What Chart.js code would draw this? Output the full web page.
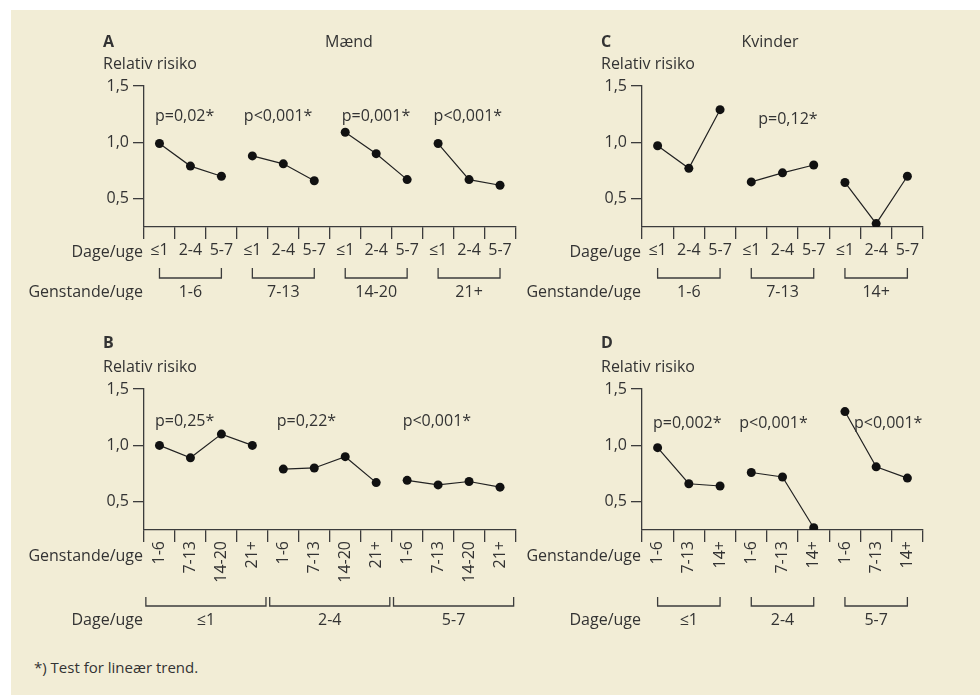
<!DOCTYPE html>
<html>
<head>
<meta charset="utf-8">
<script src="https://cdn.jsdelivr.net/npm/chart.js@4.4.0/dist/chart.umd.min.js"></script>
<style>
  body { margin: 0; background: #fff; width: 980px; height: 695px; overflow: hidden; font-family: "Open Sans", sans-serif; }
  #bg { position: absolute; left: 11px; top: 10px; width: 969px; height: 685px; background: #f2edd6; }
  canvas { position: absolute; }
  #note { position: absolute; left: 34px; top: 657px; font-size: 15px; color: #333; }
</style>
</head>
<body>
<div id="bg"></div>
<canvas id="chartA" width="520" height="300" style="left:0;top:0"></canvas>
<canvas id="chartB" width="520" height="340" style="left:0;top:300px"></canvas>
<canvas id="chartC" width="460" height="300" style="left:520px;top:0"></canvas>
<canvas id="chartD" width="460" height="340" style="left:520px;top:300px"></canvas>
<div id="note">*) Test for lineær trend.</div>
<script>
// tick / group labels
const daysLabels = ['≤1', '2-4', '5-7'];
const itemsMenLabels = ['1-6', '7-13', '14-20', '21+'];
const itemsWomenLabels = ['1-6', '7-13', '14+'];
const yTicks = [0.5, 1.0, 1.5];

// A: mænd, grouped by genstande/uge, points per dage/uge
const menByItems = [
  [0.99, 0.79, 0.70],
  [0.88, 0.81, 0.66],
  [1.09, 0.90, 0.67],
  [0.99, 0.67, 0.62]
];
const menByItemsP = ['p=0,02*', 'p<0,001*', 'p=0,001*', 'p<0,001*'];

// B: mænd, grouped by dage/uge, points per genstande/uge
const menByDays = [
  [1.00, 0.89, 1.10, 1.00],
  [0.79, 0.80, 0.90, 0.67],
  [0.69, 0.65, 0.68, 0.63]
];
const menByDaysP = ['p=0,25*', 'p=0,22*', 'p<0,001*'];

// C: kvinder, grouped by genstande/uge
const womenByItems = [
  [0.97, 0.77, 1.29],
  [0.65, 0.73, 0.80],
  [0.645, 0.28, 0.70]
];
const womenByItemsP = ['', 'p=0,12*', ''];

// D: kvinder, grouped by dage/uge
const womenByDays = [
  [0.98, 0.66, 0.64],
  [0.76, 0.72, 0.27],
  [1.30, 0.81, 0.71]
];
const womenByDaysP = ['p=0,002*', 'p<0,001*', 'p<0,001*'];

const TEXT = '#333';
const INK = '#3c3c3c';
const FONT_FAMILY = '"Open Sans", sans-serif';
const FONT_SIZE = 16;

function buildDatasets(groups) {
  const n = groups[0].length;
  const total = groups.length * n;
  return groups.map((g, gi) => ({
    data: Array.from({ length: total }, (_, i) => (i >= gi * n && i < gi * n + n) ? g[i - gi * n] : null),
    borderColor: '#222',
    borderWidth: 1.2,
    pointRadius: 4.5,
    pointHoverRadius: 4.5,
    pointBackgroundColor: '#111',
    pointBorderWidth: 0,
    spanGaps: false,
    tension: 0
  }));
}

function repeat(arr, times) {
  let out = [];
  for (let i = 0; i < times; i++) out = out.concat(arr);
  return out;
}

// draws headers, p-values, row labels and brackets
const extras = {
  id: 'extras',
  afterDraw(chart, args, o) {
    const { ctx, chartArea: ca } = chart;
    const x = chart.scales.x, y = chart.scales.y;
    ctx.save();
    ctx.fillStyle = TEXT;
    ctx.strokeStyle = INK;
    ctx.textBaseline = 'middle';

    ctx.textAlign = 'left';
    ctx.font = 'bold ' + FONT_SIZE + 'px ' + FONT_FAMILY;
    ctx.fillText(o.letter, ca.left - 41, ca.top - o.headDy);
    ctx.font = FONT_SIZE + 'px ' + FONT_FAMILY;
    ctx.fillText('Relativ risiko', ca.left - 41, ca.top - 22);
    if (o.title) {
      ctx.textAlign = 'center';
      ctx.fillText(o.title, ca.left + o.titleDx, ca.top - o.headDy);
    }

    // p-values
    ctx.textAlign = 'left';
    o.pTexts.forEach((t, i) => {
      if (!t) return;
      const px = x.getPixelForValue(i * o.n) + o.pShift[i];
      ctx.fillText(t, px, y.getPixelForValue(o.pY));
    });

    // row labels
    ctx.textAlign = 'right';
    ctx.fillText(o.tickRow, ca.left - 1, ca.bottom + o.tickRowDy);
    ctx.fillText(o.groupRow, ca.left - 1, ca.bottom + o.groupDy);

    // brackets + group labels
    ctx.lineWidth = 1.3;
    ctx.textAlign = 'center';
    o.groupLabels.forEach((t, i) => {
      const a = x.getPixelForValue(i * o.n - o.ext);
      const b = x.getPixelForValue(i * o.n + o.n - 1 + o.ext);
      const yt = ca.bottom + o.bTop, yb = ca.bottom + o.bBot;
      ctx.beginPath();
      ctx.moveTo(a, yt);
      ctx.lineTo(a, yb);
      ctx.lineTo(b, yb);
      ctx.lineTo(b, yt);
      ctx.stroke();
      ctx.fillText(t, (a + b) / 2, ca.bottom + o.groupDy);
    });
    ctx.restore();
  }
};

function makePanel(id, cfg) {
  const canvas = document.getElementById(id);
  return new Chart(canvas, {
    type: 'line',
    data: { labels: cfg.labels, datasets: buildDatasets(cfg.groups) },
    options: {
      responsive: false,
      animation: false,
      devicePixelRatio: 1,
      layout: { padding: { left: 0, top: cfg.top, right: cfg.right, bottom: 0 } },
      plugins: {
        legend: { display: false },
        tooltip: { enabled: false },
        extras: cfg.extras
      },
      scales: {
        x: {
          type: 'category',
          offset: true,
          afterFit: s => { s.height = cfg.axisH; },
          grid: { offset: true, drawOnChartArea: false, tickLength: 12, color: INK, lineWidth: 1.3 },
          border: { color: INK, width: 1.3 },
          ticks: {
            autoSkip: false,
            minRotation: cfg.rot,
            maxRotation: cfg.rot,
            padding: cfg.rot ? -1 : 2,
            color: TEXT,
            font: { family: FONT_FAMILY, size: FONT_SIZE }
          }
        },
        y: {
          min: 0.25,
          max: 1.5,
          afterFit: s => { s.width = cfg.left; },
          afterBuildTicks: s => { s.ticks = yTicks.map(v => ({ value: v })); },
          grid: { drawOnChartArea: false, tickLength: 11, color: INK, lineWidth: 1.3 },
          border: { color: INK, width: 1.3 },
          ticks: {
            padding: 4,
            color: TEXT,
            font: { family: FONT_FAMILY, size: FONT_SIZE },
            callback: v => v.toFixed(1).replace('.', ',')
          }
        }
      }
    },
    plugins: [extras]
  });
}

makePanel('chartA', {
  labels: repeat(daysLabels, 4), groups: menByItems,
  left: 144, right: 3, top: 86, axisH: 73, rot: 0,
  extras: {
    letter: 'A', title: 'Mænd', titleDx: 205, headDy: 44, n: 3,
    pTexts: menByItemsP, pShift: [-4.5, -8.5, -3.5, -4.5], pY: 1.228,
    tickRow: 'Dage/uge', groupRow: 'Genstande/uge', groupLabels: itemsMenLabels,
    tickRowDy: 25, groupDy: 65, bTop: 41, bBot: 51, ext: 0
  }
});

makePanel('chartB', {
  labels: repeat(itemsMenLabels, 3), groups: menByDays,
  left: 144, right: 3, top: 89, axisH: 110, rot: 90,
  extras: {
    letter: 'B', title: '', titleDx: 0, headDy: 46, n: 4,
    pTexts: menByDaysP, pShift: [-4.5, -6.5, -4.5], pY: 1.21,
    tickRow: 'Genstande/uge', groupRow: 'Dage/uge', groupLabels: daysLabels,
    tickRowDy: 26, groupDy: 90, bTop: 67, bBot: 76, ext: 0.44
  }
});

makePanel('chartC', {
  labels: repeat(daysLabels, 3), groups: womenByItems,
  left: 122, right: 57, top: 86, axisH: 73, rot: 0,
  extras: {
    letter: 'C', title: 'Kvinder', titleDx: 128, headDy: 44, n: 3,
    pTexts: womenByItemsP, pShift: [0, 7, 0], pY: 1.20,
    tickRow: 'Dage/uge', groupRow: 'Genstande/uge', groupLabels: itemsWomenLabels,
    tickRowDy: 25, groupDy: 65, bTop: 41, bBot: 51, ext: 0
  }
});

makePanel('chartD', {
  labels: repeat(itemsWomenLabels, 3), groups: womenByDays,
  left: 122, right: 57, top: 89, axisH: 110, rot: 90,
  extras: {
    letter: 'D', title: '', titleDx: 0, headDy: 46, n: 3,
    pTexts: womenByDaysP, pShift: [-4.6, -12, 9], pY: 1.196,
    tickRow: 'Genstande/uge', groupRow: 'Dage/uge', groupLabels: daysLabels,
    tickRowDy: 26, groupDy: 90, bTop: 67, bBot: 76, ext: 0
  }
});
</script>
</body>
</html>
